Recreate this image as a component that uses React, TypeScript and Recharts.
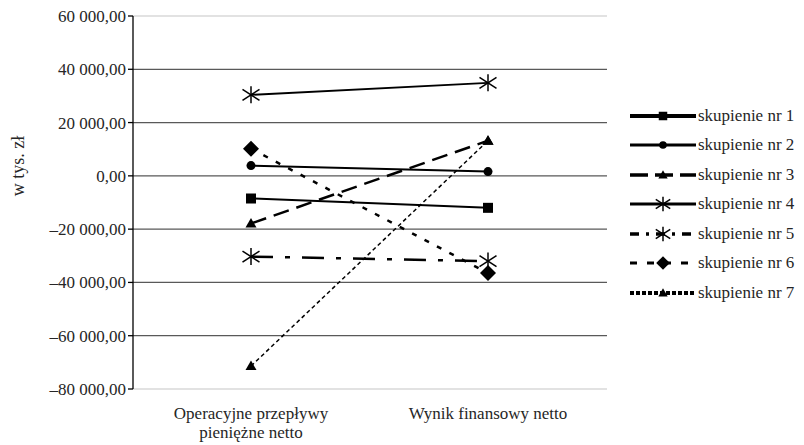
import React from 'react';
import { LineChart, Line, XAxis, YAxis, ReferenceLine, Legend } from 'recharts';

const categories = ['Operacyjne przepływy pieniężne netto', 'Wynik finansowy netto'];
const categoryLines = [['Operacyjne przepływy', 'pieniężne netto'], ['Wynik finansowy netto']];
const seriesNames = ['skupienie nr 1', 'skupienie nr 2', 'skupienie nr 3', 'skupienie nr 4', 'skupienie nr 5', 'skupienie nr 6', 'skupienie nr 7'];
const s1 = [-8500, -12000];
const s2 = [3850, 1600];
const s3 = [-17900, 13200];
const s4 = [30400, 34900];
const s5 = [-30300, -32000];
const s6 = [10200, -36500];
const s7 = [-71400, 13200];
const yTicks = [60000, 40000, 20000, 0, -20000, -40000, -60000, -80000];

const FONT = "'Liberation Serif', 'Times New Roman', Times, 'DejaVu Serif', serif";

const seriesValues = [s1, s2, s3, s4, s5, s6, s7];
const data = categories.map((name, i) => {
  const row: Record<string, any> = { name };
  seriesValues.forEach((s, k) => { row['s' + (k + 1)] = s[i]; });
  return row;
});

type Shape = 'square' | 'circle' | 'triangle' | 'star' | 'diamond';
const styles: { shape: Shape; dash?: string; width: number; legendDash?: string; legendWidth: number }[] = [
  { shape: 'square', width: 2, legendWidth: 4 },
  { shape: 'circle', width: 2, legendWidth: 3 },
  { shape: 'triangle', dash: '16 8', width: 2.5, legendDash: '18 7', legendWidth: 3.5 },
  { shape: 'star', width: 2, legendWidth: 3 },
  { shape: 'star', dash: '22 12 5 12', width: 2.5, legendDash: '9 7 3 7', legendWidth: 3.5 },
  { shape: 'diamond', dash: '5 9', width: 2.5, legendDash: '7 10', legendWidth: 3 },
  { shape: 'triangle', dash: '4 3', width: 1.5, legendDash: '4 2', legendWidth: 4 },
];

const Marker = ({ shape, cx, cy, scale = 1 }: { shape: Shape; cx: number; cy: number; scale?: number }) => {
  const k = scale;
  if (shape === 'square') return <rect x={cx - 5 * k} y={cy - 5 * k} width={10 * k} height={10 * k} fill="#000" />;
  if (shape === 'circle') return <circle cx={cx} cy={cy} r={4.5 * k} fill="#000" />;
  if (shape === 'triangle')
    return <polygon points={`${cx},${cy - 5.5 * k} ${cx + 5.5 * k},${cy + 4 * k} ${cx - 5.5 * k},${cy + 4 * k}`} fill="#000" />;
  if (shape === 'diamond')
    return <polygon points={`${cx},${cy - 8 * k} ${cx + 8 * k},${cy} ${cx},${cy + 8 * k} ${cx - 8 * k},${cy}`} fill="#000" />;
  return (
    <g stroke="#000" strokeWidth={1.5}>
      <line x1={cx} y1={cy - 8.5 * k} x2={cx} y2={cy + 8.5 * k} />
      <line x1={cx - 8.5 * k} y1={cy - 5.5 * k} x2={cx + 8.5 * k} y2={cy + 5.5 * k} />
      <line x1={cx - 8.5 * k} y1={cy + 5.5 * k} x2={cx + 8.5 * k} y2={cy - 5.5 * k} />
    </g>
  );
};

const fmt = (v: number) => {
  const abs = Math.abs(v);
  const s = String(abs).replace(/\B(?=(\d{3})+(?!\d))/g, ' ');
  return (v < 0 ? '–' : '') + s + ',00';
};

const XTick = (props: any) => {
  const { x, y, payload } = props;
  const idx = categories.indexOf(payload.value);
  const lines = categoryLines[idx] || [payload.value];
  return (
    <g>
      {lines.map((l, i) => (
        <text key={i} x={x} y={y + 22 + i * 19} textAnchor="middle" fill="#262626" fontSize={17} style={{ fontFamily: FONT }}>
          {l}
        </text>
      ))}
    </g>
  );
};

const LegendContent = () => (
  <div style={{ fontFamily: FONT, fontSize: 17, color: '#262626' }}>
    {seriesNames.map((n, i) => (
      <div key={n} style={{ display: 'flex', alignItems: 'center', height: 29.5 }}>
        <svg width={67} height={20} style={{ display: 'block' }}>
          <line x1={0} x2={66} y1={10} y2={10} stroke="#000" strokeWidth={styles[i].legendWidth} strokeDasharray={styles[i].legendDash} />
          <Marker shape={styles[i].shape} cx={33} cy={10} scale={0.85} />
        </svg>
        <span style={{ marginLeft: 1, whiteSpace: 'nowrap' }}>{n}</span>
      </div>
    ))}
  </div>
);

export default function App() {
  return (
    <div style={{ position: 'absolute', left: 0, top: 0, width: 804, height: 445, background: '#fff', fontFamily: FONT }}>
      <LineChart width={804} height={445} data={data} margin={{ top: 16, right: 23, bottom: 0, left: 0 }}>
        {yTicks.map((t) => (
          <ReferenceLine key={t} y={t} stroke={t === 60000 || t === -80000 ? '#d9d9d9' : '#595959'} strokeWidth={1.3} />
        ))}
        <XAxis
          dataKey="name"
          axisLine={false}
          tickLine={false}
          height={56}
          interval={0}
          padding={{ left: 118, right: 119 }}
          tick={<XTick />}
        />
        <YAxis
          domain={[-80000, 60000]}
          ticks={yTicks}
          interval={0}
          width={133}
          tickFormatter={fmt}
          axisLine={{ stroke: '#000', strokeWidth: 1.3 }}
          tickLine={{ stroke: '#000', strokeWidth: 1.3 }}
          tickSize={5}
          tickMargin={2}
          tick={{ fill: '#262626', fontSize: 17, style: { fontFamily: FONT } }}
          label={{
            content: () => (
              <text
                x={24}
                y={166}
                transform="rotate(-90 24 166)"
                textAnchor="middle"
                fill="#262626"
                fontSize={18}
                style={{ fontFamily: FONT }}
              >
                w tys. zł
              </text>
            ),
          }}
        />
        <Legend
          layout="vertical"
          align="right"
          verticalAlign="middle"
          content={<LegendContent />}
          wrapperStyle={{ position: 'absolute', left: 630, top: 101, width: 174 }}
        />
        {styles.map((st, i) => (
          <Line
            key={i}
            dataKey={'s' + (i + 1)}
            name={seriesNames[i]}
            stroke="#000"
            strokeWidth={st.width}
            strokeDasharray={st.dash}
            isAnimationActive={false}
            dot={(p: any) => <Marker key={`d${i}-${p.index}`} shape={st.shape} cx={p.cx} cy={p.cy} />}
            activeDot={false}
          />
        ))}
      </LineChart>
    </div>
  );
}
